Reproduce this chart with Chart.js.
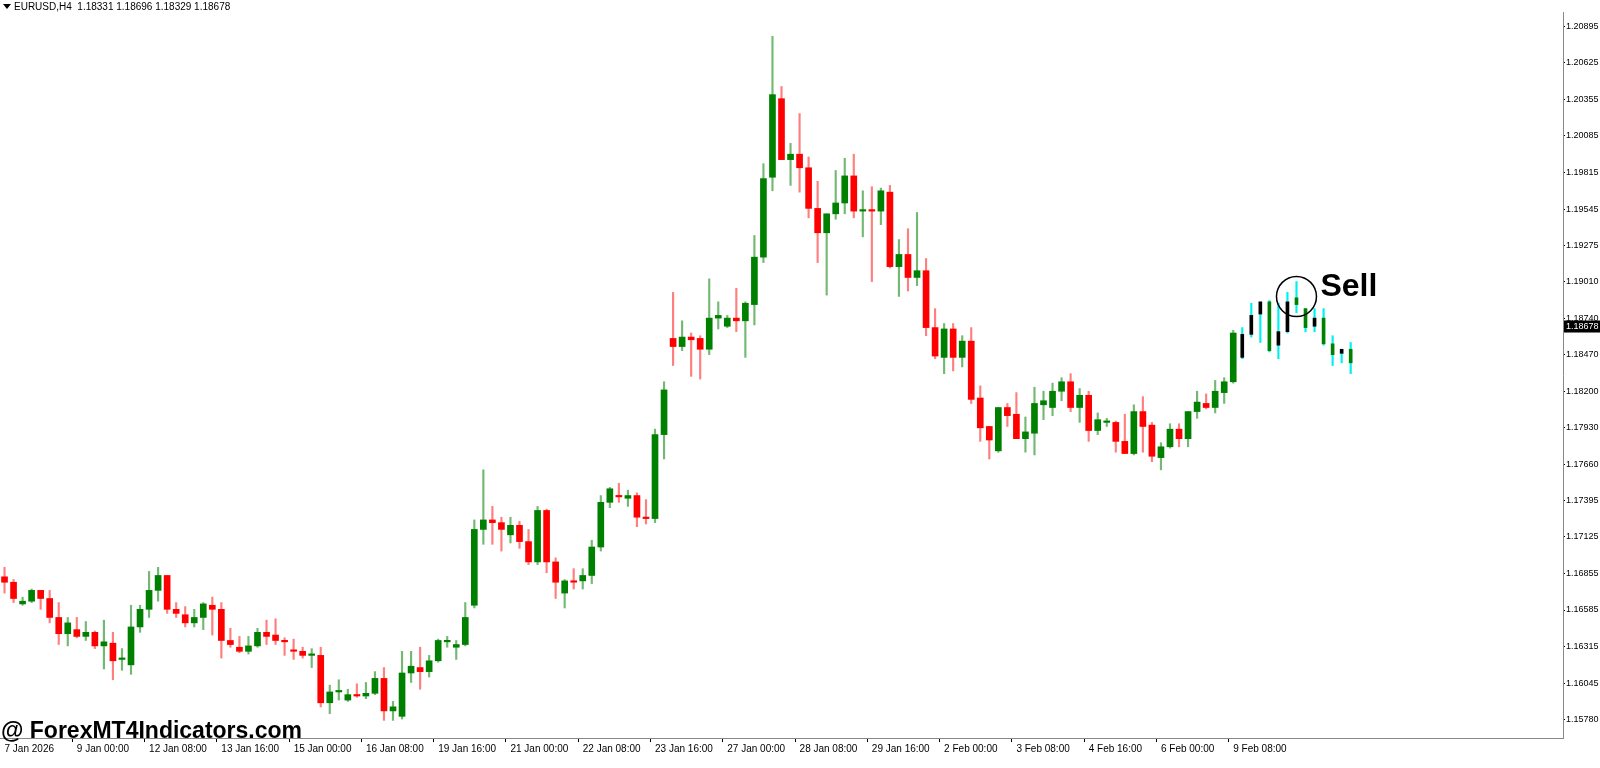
<!DOCTYPE html>
<html>
<head>
<meta charset="utf-8">
<script src="https://cdn.jsdelivr.net/npm/chart.js@4.4.1/dist/chart.umd.min.js"></script>
<style>
  html, body { margin: 0; padding: 0; background: #fff; }
  #stage { display: block; }
</style>
</head>
<body>
<canvas id="stage" width="1600" height="768"></canvas>
<script>
// EURUSD H4 candles
const openP = [
  1.1683,1.1679,1.1663,1.1665,1.1673,1.1667,1.1653,1.1641,1.1644,1.1639,
  1.1642,1.1632,1.1634,1.1622,1.1618,1.1646,1.1659,1.1673,1.1684,1.1659,
  1.1655,1.1649,1.1653,1.1662,1.1659,1.1636,1.1631,1.1628,1.1632,1.1642,
  1.1640,1.1636,1.1629,1.1628,1.1625,1.1625,1.1590,1.1598,1.1592,1.1596,
  1.1595,1.1597,1.1608,1.1584,1.1580,1.1612,1.1616,1.1613,1.1621,1.1635,
  1.1631,1.1633,1.1662,1.1718,1.1725,1.1723,1.1714,1.1721,1.1709,1.1694,
  1.1732,1.1694,1.1671,1.1680,1.1680,1.1684,1.1705,1.1738,1.1743,1.1741,
  1.1743,1.1727,1.1726,1.1788,1.1859,1.1853,1.1860,1.1859,1.1851,1.1874,
  1.1868,1.1874,1.1872,1.1884,1.1919,1.1978,1.2036,1.1991,1.1995,1.1985,
  1.1955,1.1937,1.1951,1.1959,1.1979,1.1953,1.1954,1.1953,1.1967,1.1912,
  1.1921,1.1904,1.1909,1.1867,1.1845,1.1866,1.1845,1.1857,1.1815,1.1794,
  1.1776,1.1808,1.1803,1.1785,1.1789,1.1810,1.1808,1.1820,1.1827,1.1808,
  1.1817,1.1791,1.1797,1.1797,1.1783,1.1774,1.1805,1.1795,1.1771,1.1779,
  1.1792,1.1785,1.1805,1.1811,1.1808,1.1819,1.1827,1.1862,1.1876,1.1886,
  1.1850,1.1864,1.1886,1.1884,1.1867,1.1874,1.1855,1.1847,1.1851,1.1841
];
const highP = [
  1.1690,1.1681,1.1668,1.1674,1.1673,1.1673,1.1664,1.1653,1.1653,1.1650,
  1.1643,1.1651,1.1642,1.1630,1.1662,1.1662,1.1687,1.1690,1.1684,1.1664,
  1.1661,1.1659,1.1664,1.1668,1.1664,1.1645,1.1639,1.1639,1.1645,1.1651,
  1.1652,1.1638,1.1637,1.1631,1.1630,1.1631,1.1603,1.1607,1.1600,1.1604,
  1.1605,1.1613,1.1616,1.1591,1.1628,1.1628,1.1631,1.1625,1.1637,1.1639,
  1.1636,1.1664,1.1725,1.1762,1.1735,1.1727,1.1727,1.1724,1.1718,1.1735,
  1.1733,1.1697,1.1681,1.1689,1.1689,1.1710,1.1743,1.1749,1.1752,1.1747,
  1.1745,1.1740,1.1792,1.1827,1.1893,1.1872,1.1863,1.1861,1.1903,1.1886,
  1.1876,1.1896,1.1886,1.1935,1.1988,1.2082,1.2045,1.2003,1.2025,1.1993,
  1.1975,1.1951,1.1983,1.1992,1.1995,1.1968,1.1971,1.1970,1.1972,1.1932,
  1.1940,1.1952,1.1918,1.1881,1.1870,1.1870,1.1861,1.1867,1.1824,1.1794,
  1.1808,1.1811,1.1819,1.1801,1.1823,1.1820,1.1826,1.1830,1.1833,1.1822,
  1.1820,1.1804,1.1800,1.1798,1.1803,1.1810,1.1816,1.1797,1.1782,1.1796,
  1.1796,1.1805,1.1820,1.1818,1.1828,1.1830,1.1865,1.1867,1.1885,1.1886,
  1.1887,1.1885,1.1893,1.1901,1.1881,1.1881,1.1881,1.1861,1.1851,1.1856
];
const lowP = [
  1.1671,1.1664,1.1662,1.1664,1.1659,1.1649,1.1633,1.1632,1.1638,1.1636,
  1.1630,1.1615,1.1607,1.1614,1.1611,1.1642,1.1653,1.1665,1.1656,1.1653,
  1.1646,1.1646,1.1644,1.1640,1.1623,1.1631,1.1627,1.1626,1.1631,1.1633,
  1.1633,1.1625,1.1622,1.1623,1.1616,1.1587,1.1582,1.1592,1.1591,1.1594,
  1.1593,1.1596,1.1577,1.1577,1.1578,1.1605,1.1600,1.1609,1.1620,1.1631,
  1.1622,1.1632,1.1660,1.1707,1.1707,1.1702,1.1708,1.1704,1.1692,1.1692,
  1.1686,1.1667,1.1660,1.1674,1.1674,1.1678,1.1702,1.1734,1.1738,1.1735,
  1.1720,1.1722,1.1723,1.1770,1.1839,1.1850,1.1831,1.1829,1.1847,1.1866,
  1.1867,1.1864,1.1845,1.1869,1.1915,1.1968,1.1991,1.1972,1.1967,1.1948,
  1.1915,1.1891,1.1947,1.1951,1.1948,1.1934,1.1901,1.1943,1.1911,1.1890,
  1.1894,1.1898,1.1861,1.1844,1.1833,1.1835,1.1838,1.1811,1.1783,1.1770,
  1.1775,1.1794,1.1785,1.1775,1.1773,1.1799,1.1802,1.1813,1.1805,1.1797,
  1.1783,1.1788,1.1794,1.1775,1.1774,1.1773,1.1775,1.1768,1.1762,1.1778,
  1.1779,1.1779,1.1800,1.1807,1.1804,1.1811,1.1826,1.1844,1.1860,1.1856,
  1.1849,1.1844,1.1863,1.1878,1.1864,1.1864,1.1854,1.1839,1.1841,1.1833
];
const closeP = [
  1.1679,1.1667,1.1665,1.1673,1.1667,1.1653,1.1641,1.1649,1.1639,1.1642,
  1.1632,1.1635,1.1621,1.1623,1.1646,1.1659,1.1673,1.1684,1.1659,1.1656,
  1.1649,1.1653,1.1663,1.1659,1.1636,1.1633,1.1628,1.1632,1.1642,1.1639,
  1.1636,1.1635,1.1628,1.1625,1.1626,1.1590,1.1598,1.1599,1.1596,1.1595,
  1.1597,1.1608,1.1584,1.1587,1.1612,1.1617,1.1613,1.1621,1.1636,1.1636,
  1.1633,1.1653,1.1718,1.1725,1.1723,1.1718,1.1721,1.1709,1.1694,1.1732,
  1.1694,1.1679,1.1680,1.1679,1.1684,1.1705,1.1738,1.1748,1.1742,1.1743,
  1.1727,1.1726,1.1788,1.1821,1.1853,1.1860,1.1858,1.1851,1.1874,1.1876,
  1.1874,1.1872,1.1885,1.1919,1.1977,1.2039,1.1991,1.1995,1.1985,1.1955,
  1.1937,1.1951,1.1959,1.1979,1.1953,1.1954,1.1953,1.1968,1.1912,1.1921,
  1.1904,1.1909,1.1867,1.1846,1.1866,1.1845,1.1857,1.1814,1.1793,1.1784,
  1.1808,1.1802,1.1785,1.1790,1.1811,1.1813,1.1820,1.1827,1.1808,1.1817,
  1.1791,1.1799,1.1798,1.1783,1.1774,1.1805,1.1794,1.1772,1.1779,1.1792,
  1.1785,1.1805,1.1812,1.1808,1.1820,1.1827,1.1863,1.1845,1.1862,1.1877,
  1.1886,1.1854,1.1864,1.1889,1.1881,1.1868,1.1874,1.1855,1.1848,1.1851
];
// bars from this index on are drawn by the signal indicator (cyan wicks)
const signalStart = 137;
const sellBar = 143;
const lastPrice = 1.18678;
const timeLabels = ['7 Jan 2026','9 Jan 00:00','12 Jan 08:00','13 Jan 16:00','15 Jan 00:00',
  '16 Jan 08:00','19 Jan 16:00','21 Jan 00:00','22 Jan 08:00','23 Jan 16:00','27 Jan 00:00',
  '28 Jan 08:00','29 Jan 16:00','2 Feb 00:00','3 Feb 08:00','4 Feb 16:00','6 Feb 00:00','9 Feb 08:00'];
const labelEvery = 8;
const priceTicks = [1.20895,1.20625,1.20355,1.20085,1.19815,1.19545,1.19275,1.19010,1.18740,
  1.18470,1.18200,1.17930,1.17660,1.17395,1.17125,1.16855,1.16585,1.16315,1.16045,1.15780];

const slots = 173;
const cats = [], wicks = [], bodies = [], sigBodies = [];
for (let i = 0; i < slots; i++) {
  let lab = '';
  if (i % labelEvery === 0 && i / labelEvery < timeLabels.length) lab = timeLabels[i / labelEvery];
  cats.push(lab);
  const has = i < openP.length;
  wicks.push(has ? [lowP[i], highP[i]] : null);
  bodies.push(has && i < signalStart ? [openP[i], closeP[i]] : null);
  sigBodies.push(has && i >= signalStart ? [openP[i], closeP[i]] : null);
}
const bull = i => closeP[i] >= openP[i];
function wickColor(ctx) {
  const i = ctx.dataIndex;
  if (i >= signalStart) return '#00f0f0';
  return bull(i) ? 'rgba(0,128,0,0.55)' : 'rgba(255,0,0,0.5)';
}

const overlay = {
  id: 'overlay',
  afterDraw(chart) {
    const c = chart.ctx, x = chart.scales.x, y = chart.scales.y;
    c.save();
    // header
    c.fillStyle = '#000';
    c.beginPath(); c.moveTo(3, 4); c.lineTo(11, 4); c.lineTo(7, 9); c.closePath(); c.fill();
    c.font = '10px "Liberation Sans"';
    c.textBaseline = 'middle';
    c.fillText('EURUSD,H4  1.18331 1.18696 1.18329 1.18678', 14, 7);
    // last price box
    const py = y.getPixelForValue(lastPrice);
    c.fillStyle = '#000';
    c.fillRect(y.left + 1, py - 6, 36, 12);
    c.fillStyle = '#fff';
    c.textAlign = 'left';
    c.font = '9px "Liberation Sans"';
    c.fillText(lastPrice.toFixed(5), y.left + 3, py);
    // sell marker
    const sx = x.getPixelForValue(sellBar);
    const sy = y.getPixelForValue(highP[sellBar]) + 15;
    c.strokeStyle = '#000'; c.lineWidth = 1.5;
    c.beginPath(); c.arc(sx, sy, 20, 0, Math.PI * 2); c.stroke();
    c.fillStyle = '#000';
    c.font = 'bold 32px "Liberation Sans"';
    c.textBaseline = 'alphabetic';
    c.fillText('Sell', sx + 24, sy - 1);
    // watermark
    c.font = 'bold 23px "Liberation Sans"';
    c.fillText('@ ForexMT4Indicators.com', 1, 738);
    c.restore();
  }
};

new Chart(document.getElementById('stage'), {
  type: 'bar',
  data: {
    labels: cats,
    datasets: [{
      data: wicks, grouped: false, barThickness: 1.5,
      backgroundColor: wickColor, borderWidth: 0, order: 3
    }, {
      data: bodies, grouped: false, barThickness: 6, minBarLength: 1.5,
      backgroundColor: ctx => bull(ctx.dataIndex) ? '#008000' : '#ff0000',
      borderWidth: 0, order: 2
    }, {
      data: sigBodies, grouped: false, barThickness: 3, minBarLength: 2,
      backgroundColor: ctx => bull(ctx.dataIndex) ? '#008000' : '#000000',
      borderWidth: 0, order: 1
    }]
  },
  options: {
    responsive: false, animation: false, devicePixelRatio: 1,
    layout: { padding: { top: 12, left: 0, right: 0, bottom: 0 } },
    plugins: { legend: { display: false }, tooltip: { enabled: false } },
    scales: {
      x: {
        offset: true,
        grid: {
          drawOnChartArea: false, tickLength: 4,
          color: ctx => cats[ctx.index] ? '#000' : 'rgba(0,0,0,0)'
        },
        border: { color: '#888' },
        ticks: {
          autoSkip: false, maxRotation: 0, align: 'start', padding: 1,
          color: '#000', font: { family: 'Liberation Sans', size: 10 },
          callback: (v, i) => cats[i]
        },
        afterFit: s => { s.height = 30; }
      },
      y: {
        position: 'right', min: 1.1564, max: 1.2100,
        afterBuildTicks: s => { s.ticks = priceTicks.map(v => ({ value: v })); },
        grid: { drawOnChartArea: false, tickLength: 2, color: '#000' },
        border: { color: '#888' },
        ticks: {
          padding: 1, color: '#000', font: { family: 'Liberation Sans', size: 9 },
          callback: v => v.toFixed(5)
        },
        afterFit: s => { s.width = 37; }
      }
    }
  },
  plugins: [overlay]
});
</script>
</body>
</html>
